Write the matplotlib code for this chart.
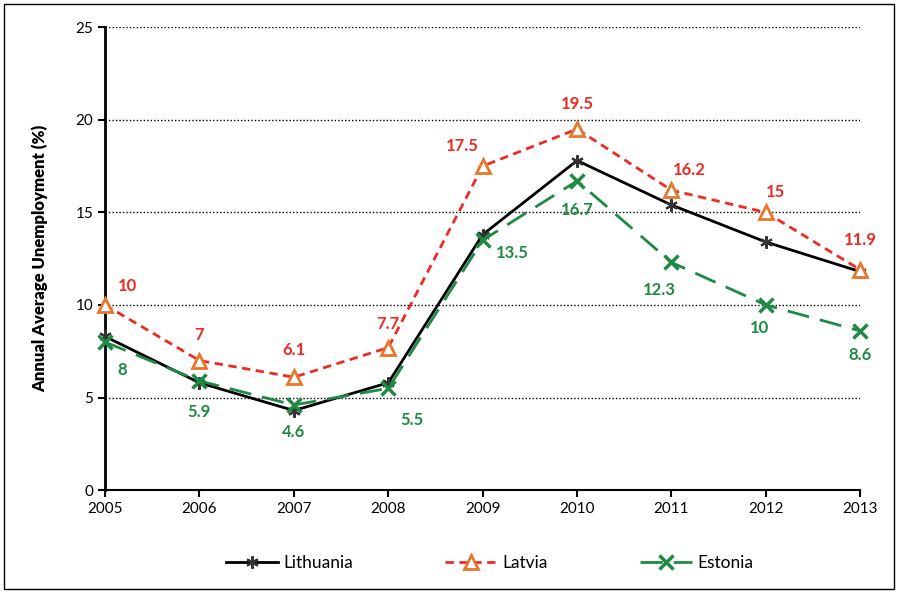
import matplotlib.pyplot as plt
from matplotlib.patches import Rectangle

years = [2005, 2006, 2007, 2008, 2009, 2010, 2011, 2012, 2013]
lithuania = [8.3, 5.8, 4.3, 5.8, 13.8, 17.8, 15.4, 13.4, 11.8]
latvia = [10, 7, 6.1, 7.7, 17.5, 19.5, 16.2, 15, 11.9]
estonia = [8, 5.9, 4.6, 5.5, 13.5, 16.7, 12.3, 10, 8.6]

# label offsets in pixels (dx, dy)
latvia_off = [(22, 19), (0, 26), (0, 27), (0, 24), (-20, 20), (0, 25), (18, 20), (10, 20), (0, 30)]
estonia_off = [(17, -28), (0, -31), (0, -27), (24, -32), (30, -13), (0, -29), (-12, -28), (-6, -23), (0, -24)]

plt.rcParams['font.family'] = ['Lato', 'DejaVu Sans']

fig = plt.figure(figsize=(8.98, 5.92), dpi=100)
ax = fig.add_axes([0.117, 0.172, 0.841, 0.782])

red = '#EE2A24'
orange = '#E8762C'
green = '#1E8A44'

ax.plot(years, lithuania, color='black', lw=2, marker=(6, 2, 0), ms=9,
        mec='#333333', mew=1.5, label='Lithuania', zorder=3, clip_on=False)
ax.plot(years, latvia, color=red, lw=2, ls=(0, (3, 2)), marker='^', ms=10,
        mfc='white', mec=orange, mew=2, label='Latvia', zorder=4, clip_on=False)
ax.plot(years, estonia, color=green, lw=2, ls=(0, (8, 4)), marker='x', ms=10,
        mec=green, mew=2.5, label='Estonia', zorder=5, clip_on=False)

for x, y, (dx, dy) in zip(years, latvia, latvia_off):
    ax.annotate(f'{y:g}', (x, y), xytext=(dx, dy), textcoords='offset pixels',
                ha='center', va='center', color=red, fontsize=12, fontweight='bold')
for x, y, (dx, dy) in zip(years, estonia, estonia_off):
    ax.annotate(f'{y:g}', (x, y), xytext=(dx, dy), textcoords='offset pixels',
                ha='center', va='center', color=green, fontsize=12, fontweight='bold')

ax.set_xlim(2005, 2013)
ax.set_ylim(0, 25)
ax.set_xticks(years)
ax.set_yticks([0, 5, 10, 15, 20, 25])
ax.tick_params(axis='both', labelsize=11, direction='out', length=5, width=1.5)
ax.yaxis.grid(True, ls=(0, (1, 1.5)), color='black', lw=1)
ax.set_axisbelow(True)
for s in ['top', 'right']:
    ax.spines[s].set_visible(False)
ax.spines['left'].set_linewidth(2)
ax.spines['bottom'].set_linewidth(1.5)
ax.set_ylabel('Annual Average Unemployment (%)', fontsize=12, fontweight='heavy', labelpad=20)

fig.legend(loc='center', bbox_to_anchor=(0.545, 0.049), ncol=3, frameon=False,
           fontsize=12.5, columnspacing=5.3, handlelength=3, handletextpad=0.3)

fig.patches.append(Rectangle((0.005, 0.005), 0.99, 0.988, transform=fig.transFigure,
                             fill=False, edgecolor='black', lw=1))

fig.savefig('out.png', dpi=100)
